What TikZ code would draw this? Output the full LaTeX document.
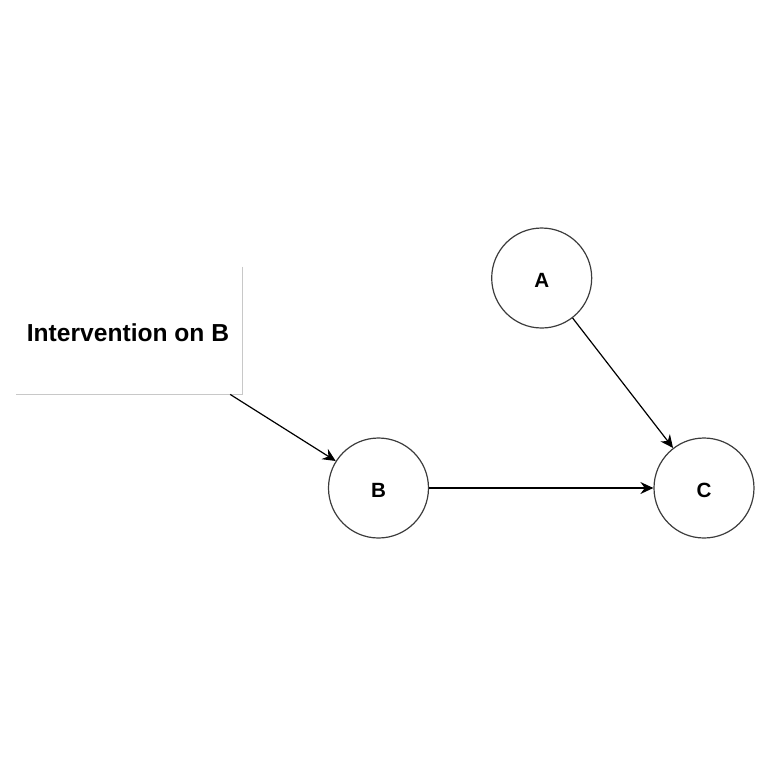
\documentclass[tikz,border=0pt]{standalone}
\usepackage{fontspec}
\setmainfont{Liberation Sans}
\usetikzlibrary{arrows.meta}
\definecolor{edgegray}{RGB}{200,200,200}
\definecolor{circgray}{RGB}{60,60,60}
\tikzset{
  var/.style={circle, draw=circgray, line width=0.6pt, minimum size=50pt, inner sep=0pt,
    font=\fontsize{10.3}{12}\selectfont\bfseries},
  labelbox/.style={rectangle, minimum width=113pt, minimum height=63.5pt, inner sep=0pt,
    font=\fontsize{12.3}{14}\selectfont\bfseries},
  conn/.style={line width=0.6pt, -{Stealth[length=6.5pt, width=6pt, inset=2.2pt]}}
}
\begin{document}
\begin{tikzpicture}[x=0.5pt, y=-0.5pt]
\useasboundingbox (0,0) rectangle (768,768);
\node[labelbox] (box) at (129,330.5) {};
\node[font=\fontsize{12.3}{14}\selectfont\bfseries] (boxtext) at (128,332.5) {Intervention on B};
\draw[edgegray, line width=0.6pt] (box.north east) -- (box.south east) -- (box.south west);
\node[var] (A) at (541.7,278) {};
\node[var] (B) at (378.5,488) {};
\node[var] (C) at (704,488) {};
\node[font=\fontsize{10.3}{12}\selectfont\bfseries] (Alab) at (541.7,280) {A};
\node[font=\fontsize{10.3}{12}\selectfont\bfseries] (Blab) at (378.5,490.5) {B};
\node[font=\fontsize{10.3}{12}\selectfont\bfseries] (Clab) at (704,490.5) {C};
\draw[conn] (box) -- (B);
\draw[conn] (B) -- (C);
\draw[conn] (A) -- (C);
\end{tikzpicture}
\end{document}
